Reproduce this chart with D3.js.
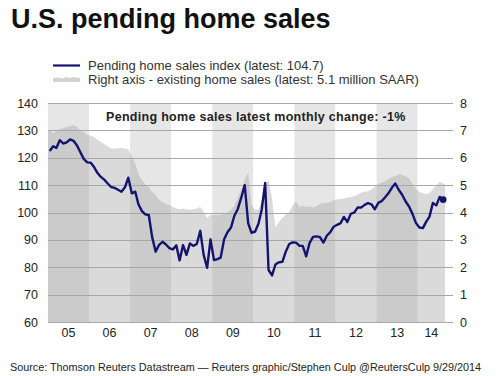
<!DOCTYPE html>
<html>
<head>
<meta charset="utf-8">
<script src="https://cdn.jsdelivr.net/npm/d3@7"></script>
<style>
  body { margin: 0; background: #fff; }
  svg { font-family: "Liberation Sans", Arial, sans-serif; display: block; }
</style>
</head>
<body>
<div id="chart"></div>
<script>
// pending home sales index, monthly Jan 2005 .. Aug 2014
const pendingIndex = [
    122.5, 124.2, 123.6, 126.4, 125.2, 125.6, 126.7, 126.2, 124.5, 122.0, 119.5, 118.3,
    118.2, 116.5, 114.5, 113.0, 112.0, 110.6, 109.3, 109.0, 108.3, 107.6, 109.2, 112.7,
    107.0, 107.6, 103.0, 100.5, 99.3, 99.1, 91.0, 85.7, 88.2, 89.3, 88.3, 87.0,
    86.5, 88.0, 82.5, 88.1, 84.5, 88.7, 87.8, 88.5, 93.3, 84.5, 79.8, 90.2,
    82.6, 83.0, 83.5, 90.2, 92.8, 94.5, 98.8, 101.3, 105.5, 110.0, 96.0, 92.6,
    93.0, 96.0, 101.0, 110.8, 79.0, 77.0, 81.0, 81.8, 82.0, 85.7, 88.5, 89.1,
    89.0, 87.8, 87.8, 84.0, 88.9, 91.1, 91.3, 91.0, 89.0, 91.5, 92.8, 94.8,
    95.5, 96.1, 98.4, 96.5, 99.5, 100.0, 101.8, 101.8, 102.8, 103.4, 103.0, 101.2,
    103.5, 104.2, 105.5, 107.0, 109.0, 110.6, 108.3, 106.5, 104.0, 102.2, 99.5, 96.2,
    94.5, 94.3, 96.5, 98.5, 103.5, 102.6, 105.7, 104.7
];

// existing home sales, million SAAR (right axis)
const existingSales = [
    7.0, 6.9, 6.98, 7.05, 7.08, 7.12, 7.16, 7.2, 7.12, 7.0, 6.92, 6.84,
    6.8, 6.76, 6.66, 6.58, 6.5, 6.41, 6.34, 6.33, 6.35, 6.36, 6.34, 6.3,
    6.05, 5.78, 5.4, 5.18, 5.02, 4.92, 4.75, 4.62, 4.47, 4.38, 4.31, 4.27,
    4.2, 4.15, 4.12, 4.15, 4.12, 4.1, 4.12, 4.15, 4.2, 4.05, 3.8, 3.92,
    3.92, 3.9, 3.92, 3.95, 4.0, 4.1, 4.25, 4.55, 4.85, 5.2, 5.45, 4.3,
    4.1, 4.1, 4.45, 5.0, 5.2, 4.5, 3.45, 3.65, 3.8, 3.92, 4.02, 4.25,
    4.4, 4.2, 4.25, 4.2, 4.22, 4.18, 4.22, 4.32, 4.35, 4.35, 4.38, 4.45,
    4.48, 4.5, 4.5, 4.55, 4.57, 4.6, 4.65, 4.72, 4.76, 4.78, 4.84, 4.95,
    5.05, 5.1, 5.15, 5.22, 5.3, 5.33, 5.4, 5.38, 5.32, 5.25, 5.05, 4.87,
    4.75, 4.7, 4.68, 4.7, 4.85, 5.0, 5.12, 5.05
];

const yearLabels = ['05', '06', '07', '08', '09', '10', '11', '12', '13', '14'];
const leftTicks = [60, 70, 80, 90, 100, 110, 120, 130, 140];
const rightTicks = [0, 1, 2, 3, 4, 5, 6, 7, 8];

const width = 500;
const height = 376;
const plot = { left: 48, right: 445, top: 103, bottom: 322, gridEnd: 453 };

const start = new Date(2005, 0, 1);
const end = new Date(2014, 8, 1);

// one row per month, point placed mid-month
const rows = pendingIndex.map((v, i) => ({
    date: new Date(2005, i, 16),
    pending: v,
    existing: existingSales[i]
}));

const x = d3.scaleTime().domain([start, end]).range([plot.left, plot.right]);
const yLeft = d3.scaleLinear().domain([60, 140]).range([plot.bottom, plot.top]);
const yRight = d3.scaleLinear().domain([0, 8]).range([plot.bottom, plot.top]);

const svg = d3.select('#chart')
    .append('svg')
    .attr('width', width)
    .attr('height', height);

// title
svg.append('text')
    .attr('x', 11)
    .attr('y', 28)
    .attr('font-size', 27)
    .attr('font-weight', 'bold')
    .attr('fill', '#111')
    .text('U.S. pending home sales');

// legend
const legend = svg.append('g').attr('font-size', 13).attr('fill', '#333');
legend.append('line')
    .attr('x1', 53).attr('x2', 80)
    .attr('y1', 65.5).attr('y2', 65.5)
    .attr('stroke', '#141470')
    .attr('stroke-width', 2.2);
legend.append('path')
    .attr('d', 'M53,82 L53,78 L58,77.5 L62,78.5 L66,77 L70,78 L74,77 L80,78 L80,82 Z')
    .attr('fill', '#d2d2d2');
legend.append('text')
    .attr('x', 88).attr('y', 70)
    .text('Pending home sales index (latest: 104.7)');
legend.append('text')
    .attr('x', 88).attr('y', 84)
    .text('Right axis - existing home sales (latest: 5.1 million SAAR)');

// alternating year bands
const years = d3.range(2005, 2015);
svg.append('g')
    .selectAll('rect')
    .data(years)
    .enter().append('rect')
    .attr('x', d => x(new Date(d, 0, 1)))
    .attr('y', plot.top)
    .attr('width', d => Math.min(x(new Date(d + 1, 0, 1)), plot.right) - x(new Date(d, 0, 1)))
    .attr('height', plot.bottom - plot.top)
    .attr('fill', (d, i) => i % 2 === 0 ? '#e6e6e6' : '#ffffff');

// existing home sales area
const area = d3.area()
    .x(d => x(d.date))
    .y0(yRight(0))
    .y1(d => yRight(d.existing));

const areaRows = [Object.assign({}, rows[0], { date: start })]
    .concat(rows)
    .concat([Object.assign({}, rows[rows.length - 1], { date: end })]);

svg.append('path')
    .datum(areaRows)
    .attr('d', area)
    .attr('fill', '#a6a6a6')
    .attr('fill-opacity', 0.42);

// gridlines
svg.append('g')
    .selectAll('line')
    .data(leftTicks)
    .enter().append('line')
    .attr('x1', plot.left)
    .attr('x2', plot.gridEnd)
    .attr('y1', d => Math.round(yLeft(d)) + 0.5)
    .attr('y2', d => Math.round(yLeft(d)) + 0.5)
    .attr('stroke', '#a8a8a8')
    .attr('stroke-width', 1);

// left axis labels
svg.append('g')
    .selectAll('text')
    .data(leftTicks)
    .enter().append('text')
    .attr('x', 38)
    .attr('y', d => yLeft(d) + 4.5)
    .attr('text-anchor', 'end')
    .attr('font-size', 12.5)
    .attr('fill', '#222')
    .text(d => d);

// right axis labels
svg.append('g')
    .selectAll('text')
    .data(rightTicks)
    .enter().append('text')
    .attr('x', 460)
    .attr('y', d => yRight(d) + 4.5)
    .attr('font-size', 12.5)
    .attr('fill', '#222')
    .text(d => d);

// year labels, centred in the visible part of each band
svg.append('g')
    .selectAll('text')
    .data(years)
    .enter().append('text')
    .attr('x', d => (x(new Date(d, 0, 1)) + Math.min(x(new Date(d + 1, 0, 1)), plot.right)) / 2)
    .attr('y', 337)
    .attr('text-anchor', 'middle')
    .attr('font-size', 12.5)
    .attr('fill', '#222')
    .text((d, i) => yearLabels[i]);

// pending index line
const line = d3.line()
    .x(d => x(d.date))
    .y(d => yLeft(d.pending));

svg.append('path')
    .datum(rows)
    .attr('d', line)
    .attr('fill', 'none')
    .attr('stroke', '#141470')
    .attr('stroke-width', 2.4)
    .attr('stroke-linejoin', 'round');

const last = rows[rows.length - 1];
svg.append('circle')
    .attr('cx', x(last.date))
    .attr('cy', yLeft(last.pending))
    .attr('r', 3.3)
    .attr('fill', '#141470');

// annotation
svg.append('text')
    .attr('x', 106)
    .attr('y', 121)
    .attr('font-size', 12.5)
    .attr('font-weight', 'bold')
    .attr('letter-spacing', 0.3)
    .attr('fill', '#222')
    .text('Pending home sales latest monthly change: -1%');

// source line
svg.append('text')
    .attr('x', 10)
    .attr('y', 371)
    .attr('font-size', 10.8)
    .attr('fill', '#222')
    .text('Source: Thomson Reuters Datastream \u2014 Reuters graphic/Stephen Culp @ReutersCulp 9/29/2014');
</script>
</body>
</html>
